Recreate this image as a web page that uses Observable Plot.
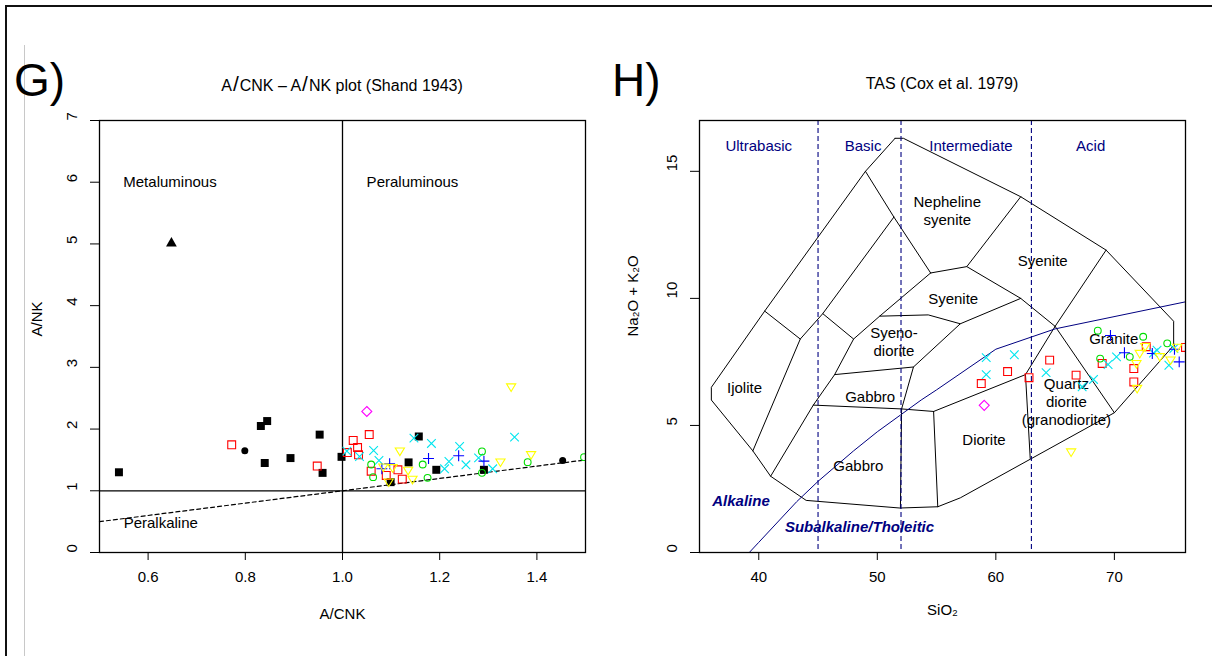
<!DOCTYPE html>
<html><head><meta charset="utf-8">
<script src="https://cdn.jsdelivr.net/npm/d3@7"></script>
<script src="https://cdn.jsdelivr.net/npm/@observablehq/plot@0.6"></script>
<style>
body{margin:0;background:#fff;}
#wrap{position:relative;width:1212px;height:656px;overflow:hidden;font-family:"Liberation Sans",Arial,Helvetica,sans-serif;color:#000;background:#fff;}
.abs{position:absolute;}
.ptitle{position:absolute;font-size:16px;line-height:16px;text-align:center;width:486px;white-space:nowrap;}
.ptitle .sl{font-size:21px;line-height:16px;margin:0 1px;}
.big{position:absolute;font-size:46px;line-height:46px;}
</style></head>
<body><div id="wrap">
<div class="abs" style="left:5px;top:5px;width:1207px;height:2px;background:#111"></div>
<div class="abs" style="left:5px;top:5px;width:2px;height:651px;background:#111"></div>
<div class="abs" style="left:24px;top:45px;width:1px;height:611px;background:#c8c8c8"></div>
<div class="big" id="lblG" style="left:14px;top:57px"></div>
<div class="big" id="lblH" style="left:612px;top:57px"></div>
<div class="ptitle" id="titleG" style="left:99px;top:76px"></div>
<div class="ptitle" id="titleH" style="left:699px;top:76px"></div>
<div id="g" class="abs" style="left:0;top:100px"></div>
<div id="h" class="abs" style="left:600px;top:100px"></div>
</div>
<script>
// ---------- text ----------
const panelLetters = ["G)", "H)"];
const panelTitleG = ["A", "/", "CNK \u2013 A", "/", "NK plot (Shand 1943)"];
const panelTitleH = "TAS (Cox et al. 1979)";

// ---------- Shand (A/CNK vs A/NK) ----------
const shandXTicks = [0.6, 0.8, 1.0, 1.2, 1.4];
const shandYTicks = [0, 1, 2, 3, 4, 5, 6, 7];
const shandDivide = [[0.5, 0.5], [1.5, 1.5]];
const shandFieldNames = ["Metaluminous", "Peraluminous", "Peralkaline"];
const shandFieldX = [0.645, 1.144, 0.626];
const shandFieldY = [6, 6, 0.48];

const shandBlackSquares = [[0.54,1.30],[0.832,2.05],[0.845,2.13],[0.84,1.45],[0.893,1.53],[0.953,1.91],[0.959,1.29],[0.998,1.55],[1.157,1.88],[1.136,1.46],[1.193,1.34],[1.099,1.14],[1.291,1.34]];
const shandBlackDots = [[0.799,1.65],[1.453,1.49]];
const shandBlackTriangles = [[0.648,5.01]];
const shandRedSquares = [[0.772,1.745],[0.948,1.40],[1.010,1.62],[1.022,1.815],[1.031,1.70],[1.033,1.583],[1.055,1.912],[1.059,1.318],[1.09,1.248],[1.114,1.34],[1.123,1.189]];
const shandCyanCrosses = [[1.009,1.642],[1.035,1.556],[1.064,1.653],[1.075,1.491],[1.147,1.853],[1.183,1.767],[1.241,1.718],[1.219,1.475],[1.21,1.356],[1.254,1.421],[1.28,1.534],[1.309,1.356],[1.354,1.869]];
const shandBluePluses = [[1.081,1.356],[1.097,1.437],[1.177,1.523],[1.239,1.567],[1.291,1.48]];
const shandGreenCircles = [[1.059,1.426],[1.063,1.221],[1.165,1.426],[1.175,1.21],[1.287,1.637],[1.287,1.291],[1.381,1.464],[1.497,1.545]];
const shandYellowTriangles = [[1.118,1.642],[1.084,1.383],[1.103,1.372],[1.135,1.329],[1.144,1.183],[1.095,1.14],[1.325,1.464],[1.388,1.583],[1.347,2.68]];
const shandMagentaDiamonds = [[1.05,2.285]];

// ---------- TAS (Cox et al. 1979) ----------
const tasXTicks = [40, 50, 60, 70];
const tasYTicks = [0, 5, 10, 15];
const tasGroupBounds = [45, 52, 63];
const tasGroupNames = ["Ultrabasic", "Basic", "Intermediate", "Acid"];
const tasGroupX = [40, 48.8, 57.9, 68];
const tasGroupY = [16, 16, 16, 16];
const tasOutline = [[51.5,16.3],[49.0,15.0],[40.5,9.5],[36.0,6.5],[36.0,6.0],[39.5,4.0],[41.0,3.0],[44.0,2.05],[51.9,1.75],[55.1,1.8],[57.0,2.15],[70.0,5.5],[75.0,8.15],[75.0,9.1],[69.3,11.9],[62.1,14.0],[52.2,16.3],[51.5,16.3]];
const tasDividers = [
  [[40.5,9.5],[43.5,8.4]],
  [[51.4,13.2],[45.4,9.4],[43.5,8.4],[39.5,4.0]],
  [[49.0,15.0],[51.4,13.2],[54.5,11.0]],
  [[45.4,9.4],[48.0,8.4]],
  [[54.5,11.0],[50.2,9.3],[48.0,8.4],[46.4,7.0],[44.6,5.8],[41.0,3.0]],
  [[54.5,11.0],[57.55,11.25],[62.1,14.0]],
  [[57.55,11.25],[62.1,10.0],[65.0,8.9],[69.3,11.9]],
  [[50.2,9.3],[54.3,9.35],[57.0,9.0],[62.1,10.0]],
  [[57.0,9.0],[53.05,7.3],[46.4,7.0]],
  [[53.05,7.3],[52.05,5.65]],
  [[44.6,5.8],[52.05,5.65],[54.75,5.55]],
  [[54.75,5.55],[55.1,1.8]],
  [[52.05,5.65],[51.95,1.75]],
  [[54.75,5.55],[62.5,7.0],[65.0,8.9]],
  [[62.5,7.0],[62.9,3.7]],
  [[65.0,8.9],[70.0,5.5]]
];
const alkalineDivideX = [39.2, 40, 43.2, 45, 48, 50, 53.7, 55, 60, 65, 77.4];
const alkalineDivideY = [0, 0.4, 2, 2.8, 4, 4.75, 6, 6.4, 8, 8.8, 10];
const tasFieldNames = ["Nepheline\nsyenite","Syenite","Syenite","Syeno-\ndiorite","Gabbro","Gabbro","Ijolite","Diorite","Quartz\ndiorite\n(granodiorite)","Granite"];
const tasFieldX = [55.9, 63.95, 56.4, 51.4, 49.4, 48.4, 38.8, 59.0, 65.95, 69.95];
const tasFieldY = [13.45, 11.5, 10.0, 8.3, 6.15, 3.45, 6.5, 4.45, 5.95, 8.45];
const tasSeriesNames = ["Alkaline", "Subalkaline/Tholeitic"];
const tasSeriesX = [38.5, 48.5];
const tasSeriesY = [2.0, 0.98];

const tasRedSquares = [[58.77,6.65],[60.99,7.12],[62.8,6.88],[64.54,7.57],[66.77,6.98],[68.97,7.44],[71.64,7.24],[71.64,6.71],[72.69,8.1],[76.0,8.07]];
const tasCyanCrosses = [[59.19,7.67],[61.56,7.78],[59.19,7.0],[64.24,7.08],[67.28,6.52],[68.24,6.81],[69.47,7.40],[70.18,7.70],[73.3,7.85],[73.6,7.96],[74.6,7.37],[75.02,8.03]];
const tasGreenCircles = [[68.6,8.73],[72.43,8.49],[68.8,7.63],[71.3,7.70],[74.46,8.23]];
const tasBluePluses = [[69.67,8.54],[70.85,7.86],[73.2,7.83],[75.07,8.0],[75.47,7.5]];
const tasYellowTriangles = [[66.35,3.95],[71.92,6.45],[71.86,7.43],[72.14,7.83],[72.6,8.1],[73.84,7.70],[74.74,7.57],[75.3,8.07]];
const tasMagentaDiamonds = [[59.02,5.79]];

// ---------- helpers ----------
const FONT = '"Liberation Sans", Arial, Helvetica, sans-serif';
const NAVY = "#000080";
const triangleDown = {
  draw(ctx, size) {
    const r = Math.sqrt(size / Math.PI);
    const w = r * 1.15, t = r * 0.8, b = r * 1.1;
    ctx.moveTo(-w, -t); ctx.lineTo(w, -t); ctx.lineTo(0, b); ctx.closePath();
  }
};
const px = d => d[0], py = d => d[1];
function pts(data, symbol, color, r, filled) {
  return Plot.dot(data, {x: px, y: py, symbol, r,
    stroke: filled ? "none" : color, fill: filled ? color : "none",
    strokeWidth: 1.1, clip: true});
}
const zip3 = (a, b, c) => a.map((t, i) => ({t, x: b[i], y: c[i]}));
const frameCfg = {width: 600, height: 556, marginTop: 20, marginBottom: 104, marginLeft: 99, marginRight: 15,
  style: {fontFamily: FONT, fontSize: "15px", background: "transparent", overflow: "visible", color: "black"}};

document.getElementById("lblG").textContent = panelLetters[0];
document.getElementById("lblH").textContent = panelLetters[1];
const tg = document.getElementById("titleG");
panelTitleG.forEach(part => {
  const s = document.createElement("span");
  s.textContent = part;
  if (part === "/") s.className = "sl";
  tg.append(s);
});
document.getElementById("titleH").textContent = panelTitleH;

// ---------- left plot ----------
const left = Plot.plot({
  ...frameCfg,
  x: {domain: [0.5, 1.5], label: null},
  y: {domain: [0, 7], label: null},
  marks: [
    Plot.ruleX([1], {stroke: "black", strokeWidth: 1.3}),
    Plot.ruleY([1], {stroke: "black", strokeWidth: 1.3}),
    Plot.line(shandDivide, {x: px, y: py, stroke: "black", strokeWidth: 1.2, strokeDasharray: "4,3"}),
    Plot.text(zip3(shandFieldNames, shandFieldX, shandFieldY), {x: "x", y: "y", text: "t", fontSize: 15, fill: "black"}),
    pts(shandBlackSquares, "square", "black", 4.5, true),
    pts(shandBlackDots, "circle", "black", 3.5, true),
    pts(shandBlackTriangles, "triangle", "black", 4, true),
    pts(shandRedSquares, "square2", "#ff0000", 5, false),
    pts(shandCyanCrosses, "times", "#00e5ee", 4, false),
    pts(shandBluePluses, "plus", "#0000ff", 3.6, false),
    pts(shandGreenCircles, "circle", "#00dd00", 3.4, false),
    pts(shandYellowTriangles, triangleDown, "#ffff00", 4, false),
    pts(shandMagentaDiamonds, "diamond2", "#ff00ff", 4.5, false),
    Plot.frame({stroke: "black", strokeWidth: 1.3}),
    Plot.axisX({ticks: shandXTicks, tickFormat: d3.format(".1f"), tickSize: 8, tickPadding: 11, fontSize: 15, label: null}),
    Plot.axisY({ticks: shandYTicks, tickSize: 9, tickFormat: () => "", label: null}),
    Plot.text(shandYTicks, {y: d => d, text: d => String(d), frameAnchor: "left", dx: -27, rotate: -90, fontSize: 15}),
    Plot.text(["A/CNK"], {frameAnchor: "bottom", dy: 66, fontSize: 15}),
    Plot.text(["A/NK"], {frameAnchor: "left", dx: -62, rotate: -90, fontSize: 15})
  ]
});
document.getElementById("g").append(left);

// ---------- right plot ----------
const dividerRows = tasDividers.flatMap((seg, k) => seg.map(p => ({x: p[0], y: p[1], k})));
const alkalineRows = alkalineDivideX.map((x, i) => ({x, y: alkalineDivideY[i]}));
const right = Plot.plot({
  ...frameCfg,
  x: {domain: [35, 76], label: null},
  y: {domain: [0, 17], label: null},
  marks: [
    Plot.line(tasOutline, {x: px, y: py, stroke: "black", strokeWidth: 1}),
    Plot.line(dividerRows, {x: "x", y: "y", z: "k", stroke: "black", strokeWidth: 1}),
    Plot.ruleX(tasGroupBounds, {stroke: NAVY, strokeWidth: 1.1, strokeDasharray: "5,3"}),
    Plot.line(alkalineRows, {x: "x", y: "y", stroke: NAVY, strokeWidth: 1, clip: true}),
    Plot.text(zip3(tasGroupNames, tasGroupX, tasGroupY), {x: "x", y: "y", text: "t", fontSize: 15, fill: NAVY}),
    Plot.text(zip3(tasFieldNames, tasFieldX, tasFieldY), {x: "x", y: "y", text: "t", fontSize: 15, lineHeight: 1.2, fill: "black"}),
    Plot.text(zip3(tasSeriesNames, tasSeriesX, tasSeriesY), {x: "x", y: "y", text: "t", fontSize: 15, fontWeight: "bold", fontStyle: "italic", fill: NAVY}),
    pts(tasRedSquares, "square2", "#ff0000", 5, false),
    pts(tasCyanCrosses, "times", "#00e5ee", 4, false),
    pts(tasGreenCircles, "circle", "#00dd00", 3.4, false),
    pts(tasBluePluses, "plus", "#0000ff", 3.6, false),
    pts(tasYellowTriangles, triangleDown, "#ffff00", 4, false),
    pts(tasMagentaDiamonds, "diamond2", "#ff00ff", 4.5, false),
    Plot.frame({stroke: "black", strokeWidth: 1.3}),
    Plot.axisX({ticks: tasXTicks, tickFormat: d3.format("d"), tickSize: 8, tickPadding: 11, fontSize: 15, label: null}),
    Plot.axisY({ticks: tasYTicks, tickSize: 9, tickFormat: () => "", label: null}),
    Plot.text(tasYTicks, {y: d => d, text: d => String(d), frameAnchor: "left", dx: -27, rotate: -90, fontSize: 15}),
    Plot.text(["SiO\u2082"], {frameAnchor: "bottom", dy: 62, fontSize: 15}),
    Plot.text(["Na\u2082O + K\u2082O"], {frameAnchor: "left", dx: -66, rotate: -90, fontSize: 15})
  ]
});
document.getElementById("h").append(right);
</script>
</body></html>
